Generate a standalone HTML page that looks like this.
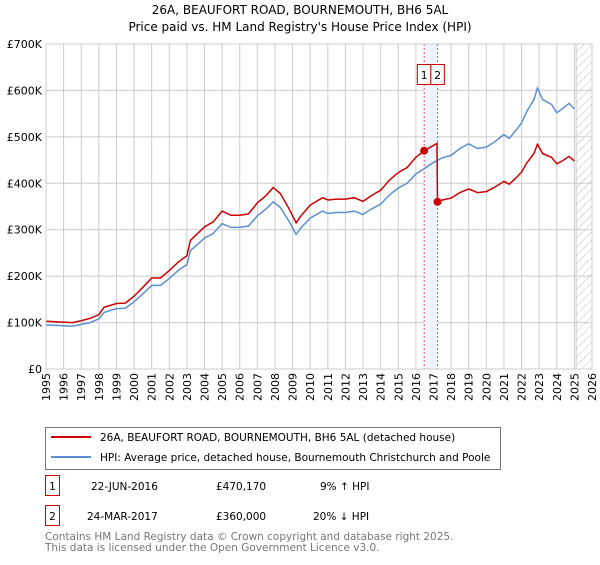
<!DOCTYPE html>
<html><head><meta charset="utf-8"><style>
body{margin:0;background:#fff;font-family:"Liberation Sans","DejaVu Sans",sans-serif;}
svg text{font-family:"DejaVu Sans","Liberation Sans",sans-serif;}
</style></head><body>
<svg id="c" width="600" height="560" xmlns="http://www.w3.org/2000/svg">
<text x="300" y="14" text-anchor="middle" font-size="12" fill="#000">26A, BEAUFORT ROAD, BOURNEMOUTH, BH6 5AL</text>
<text x="300" y="31" text-anchor="middle" font-size="12" fill="#000">Price paid vs. HM Land Registry's House Price Index (HPI)</text>
<defs><pattern id="hatch" width="6" height="6" patternUnits="userSpaceOnUse" patternTransform="rotate(45)"><line x1="0" y1="0" x2="0" y2="6" stroke="#bbb" stroke-width="1"/></pattern></defs>
<g id="grid"></g><g id="marks"></g>
<g>
<rect x="45.5" y="427.5" width="455" height="42" fill="#fff" stroke="#777"/>
<line x1="51" y1="437" x2="91" y2="437" stroke="#cc0000" stroke-width="2"/>
<text x="100" y="441" font-size="10.5">26A, BEAUFORT ROAD, BOURNEMOUTH, BH6 5AL (detached house)</text>
<line x1="51" y1="457" x2="91" y2="457" stroke="#5b8fd0" stroke-width="2"/>
<text x="100" y="461" font-size="10.5">HPI: Average price, detached house, Bournemouth Christchurch and Poole</text>
</g>
<g>
<rect x="45.5" y="475.5" width="14" height="20" fill="none" stroke="#cc0000"/>
<text x="52.5" y="490" font-size="10.5" text-anchor="middle">1</text>
<text x="91" y="490" font-size="10.5">22-JUN-2016</text>
<text x="216" y="490" font-size="10.5">£470,170</text>
<text x="320" y="490" font-size="10.5">9% ↑ HPI</text>
</g>
<g>
<rect x="45.5" y="505.5" width="14" height="20" fill="none" stroke="#cc0000"/>
<text x="52.5" y="520" font-size="10.5" text-anchor="middle">2</text>
<text x="87" y="520" font-size="10.5">24-MAR-2017</text>
<text x="216" y="520" font-size="10.5">£360,000</text>
<text x="313" y="520" font-size="10.5">20% ↓ HPI</text>
</g>
<text x="45" y="540" font-size="10.5" fill="#777">Contains HM Land Registry data © Crown copyright and database right 2025.</text>
<text x="45" y="551" font-size="10.5" fill="#777">This data is licensed under the Open Government Licence v3.0.</text>
</svg>
<script>
const hpiYears=[1995,1996,1996.5,1997,1997.5,1998,1998.3,1999,1999.5,2000,2000.5,2001,2001.5,2002,2002.5,2003,2003.2,2003.5,2004,2004.5,2005,2005.5,2006,2006.5,2007,2007.5,2007.9,2008.3,2008.8,2009.2,2009.5,2010,2010.7,2011,2011.5,2012,2012.5,2013,2013.5,2014,2014.5,2015,2015.5,2016,2016.5,2017,2017.5,2018,2018.5,2019,2019.5,2020,2020.5,2021,2021.3,2021.7,2022,2022.3,2022.7,2022.9,2023.2,2023.7,2024,2024.3,2024.7,2025];
const hpiValues=[95,93,92,96,100,108,122,130,131,145,162,180,180,195,212,225,255,265,282,292,313,305,305,308,330,345,360,348,318,290,305,325,340,335,337,337,340,333,345,355,375,390,400,420,432,445,455,460,475,485,475,478,490,505,497,515,530,555,580,605,580,570,552,560,572,560];
const redYears=[1995,1996,1996.5,1997,1997.5,1998,1998.3,1999,1999.5,2000,2000.5,2001,2001.5,2002,2002.5,2003,2003.2,2003.5,2004,2004.5,2005,2005.5,2006,2006.5,2007,2007.5,2007.9,2008.3,2008.8,2009.2,2009.5,2010,2010.7,2011,2011.5,2012,2012.5,2013,2013.5,2014,2014.5,2015,2015.5,2016,2016.47,2017.2,2017.23,2017.5,2018,2018.5,2019,2019.5,2020,2020.5,2021,2021.3,2021.7,2022,2022.3,2022.7,2022.9,2023.2,2023.7,2024,2024.3,2024.7,2025];
const redValues=[103,101,100,104,109,117,133,141,142,157,176,196,196,212,230,244,277,288,306,317,340,331,331,334,358,374,391,378,345,315,331,353,369,364,366,366,369,361,374,385,407,423,434,456,470,486,360,364,368,380,388,380,382,392,404,398,412,424,444,464,484,464,456,442,448,458,448];
const saleYears=[2016.47,2017.23];
const saleValues=[470.17,360];
const saleLabels=["1","2"];
const yTicks=[0,100,200,300,400,500,600,700];
const yTickLabels=["£0","£100K","£200K","£300K","£400K","£500K","£600K","£700K"];
const xTicks=[1995,1996,1997,1998,1999,2000,2001,2002,2003,2004,2005,2006,2007,2008,2009,2010,2011,2012,2013,2014,2015,2016,2017,2018,2019,2020,2021,2022,2023,2024,2025,2026];

const NS="http://www.w3.org/2000/svg";
const X0=46,X1=592,Y0=369,Y1=44;
const x=y=>X0+(y-1995)*(X1-X0)/31;
const yS=v=>Y0-v*(Y0-Y1)/700;
function mk(tag,attrs,parent){const e=document.createElementNS(NS,tag);for(const k in attrs)e.setAttribute(k,attrs[k]);parent.appendChild(e);return e;}
const g=document.getElementById('grid'),m=document.getElementById('marks');
yTicks.forEach((t,i)=>{
 const l=mk('line',{x1:X0,x2:X1,y1:yS(t),y2:yS(t),stroke:'#ccc'},g);
 
 
 const tx=mk('text',{x:X0-4,y:yS(t)+4,'text-anchor':'end','font-size':11},g);
 tx.textContent=yTickLabels[i];
 
 
});
xTicks.forEach(t=>{
 const l=mk('line',{x1:x(t),x2:x(t),y1:Y1,y2:Y0,stroke:'#ccc'},g);
 
 
 const tx=mk('text',{x:0,y:0,'text-anchor':'end','font-size':11,transform:`translate(${x(t)+4},${Y0+4}) rotate(-90)`},g);
 tx.textContent=t;
 
 
});
const hatch=mk('rect',{x:x(2025.1),y:Y1,width:X1-x(2025.1),height:Y0-Y1,fill:'url(#hatch)',stroke:'#ccc'},g);


const band=mk('rect',{x:x(saleYears[0]),y:Y1,width:x(saleYears[1])-x(saleYears[0]),height:Y0-Y1,fill:'#eef3fc'},m);


saleYears.forEach(s=>{
 const l=mk('line',{x1:x(s),x2:x(s),y1:Y1,y2:Y0,stroke:'#ee5555','stroke-dasharray':'2,2'},m);
 
 
});
const path=(xs,vs)=>xs.map((a,i)=>(i?'L':'M')+x(a).toFixed(1)+','+yS(vs[i]).toFixed(1)).join('');
const hl=mk('path',{d:path(hpiYears,hpiValues),fill:'none',stroke:'#5b8fd0','stroke-width':1.5},m);


const rl=mk('path',{d:path(redYears,redValues),fill:'none',stroke:'#cc0000','stroke-width':1.5},m);


const mid=(x(saleYears[0])+x(saleYears[1]))/2;
saleYears.forEach((s,i)=>{
 const c=mk('circle',{cx:x(s),cy:yS(saleValues[i]),r:4,fill:'#cc0000'},m);
 
 
 const bx=mid+(i?0:-13.5);
 const r=mk('rect',{x:bx,y:64.5,width:13.5,height:20,fill:'#fff',stroke:'#cc0000'},m);
 
 
 const t=mk('text',{x:bx+6.75,y:79,'text-anchor':'middle','font-size':11},m);
 t.textContent=saleLabels[i];
 
 
});
const ax=mk('rect',{x:X0,y:Y1,width:X1-X0,height:Y0-Y1,fill:'none',stroke:'#ccc'},m);


</script>
</body></html>
